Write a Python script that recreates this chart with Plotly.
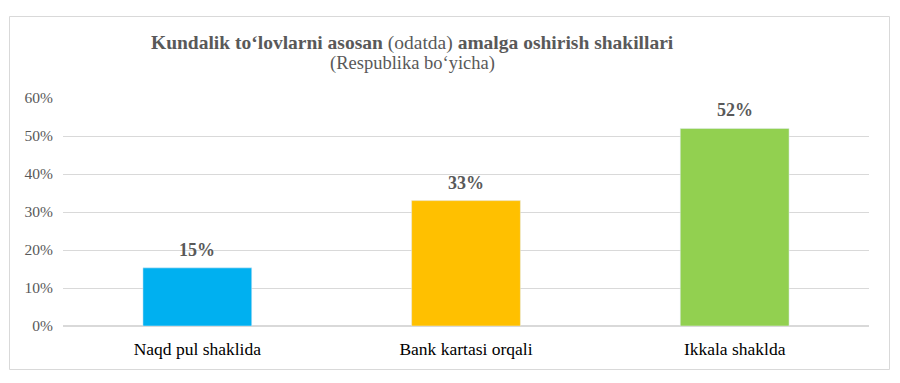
import plotly.graph_objects as go

categories = ["Naqd pul shaklida", "Bank kartasi orqali", "Ikkala shaklda"]
values = [0.153, 0.33, 0.52]
colors = ["#00B0F0", "#FFC000", "#92D050"]

OFF = 8  # default page body margin
W, H = 900 - OFF, 383 - OFF
L, R, T, B = 63 - OFF, 31, 98 - OFF, 57
pw, ph = W - L - R, H - T - B

fig = go.Figure(go.Bar(
    x=categories, y=values, marker_color=colors, width=0.405,
))

for c, v in zip(categories, values):
    fig.add_annotation(x=c, y=v, text=f"<b>{v:.0%}</b>", showarrow=False,
                       yanchor="bottom", yshift=6,
                       font=dict(family="Liberation Serif", size=18, color="#595959"))

def px(x):
    return (x - OFF - L) / pw

def py(y):
    return (H - B - (y - OFF)) / ph

fig.add_shape(type="rect", xref="paper", yref="paper",
              x0=px(9.5), x1=px(889.5), y0=py(369.5), y1=py(16.5),
              line=dict(color="#D9D9D9", width=1), fillcolor="rgba(0,0,0,0)")

fig.add_annotation(xref="paper", yref="paper", x=px(412), y=py(43), xanchor="center", yanchor="middle",
                   text="<b>Kundalik to‘lovlarni asosan</b> (odatda) <b>amalga oshirish shakillari</b>",
                   showarrow=False, font=dict(family="Liberation Serif", size=19.5, color="#595959"))
fig.add_annotation(xref="paper", yref="paper", x=px(412), y=py(64), xanchor="center", yanchor="middle",
                   text="(Respublika bo‘yicha)",
                   showarrow=False, font=dict(family="Liberation Serif", size=18.5, color="#595959"))

fig.update_layout(
    width=W, height=H, margin=dict(l=L, r=R, t=T, b=B),
    paper_bgcolor="white", plot_bgcolor="white", showlegend=False,
    xaxis=dict(showgrid=False, showline=False, ticks="", ticklabelstandoff=10,
               tickfont=dict(family="Liberation Serif", size=17.5, color="#000000")),
    yaxis=dict(range=[0, 0.6], dtick=0.1, tickformat=".0%", showgrid=True,
               gridcolor="#D9D9D9", gridwidth=1, zeroline=True, zerolinecolor="#D9D9D9",
               showline=False, ticks="", ticklen=0, ticklabelstandoff=9,
               tickfont=dict(family="Liberation Serif", size=15.5, color="#595959")),
)
fig.write_html("out.html")
